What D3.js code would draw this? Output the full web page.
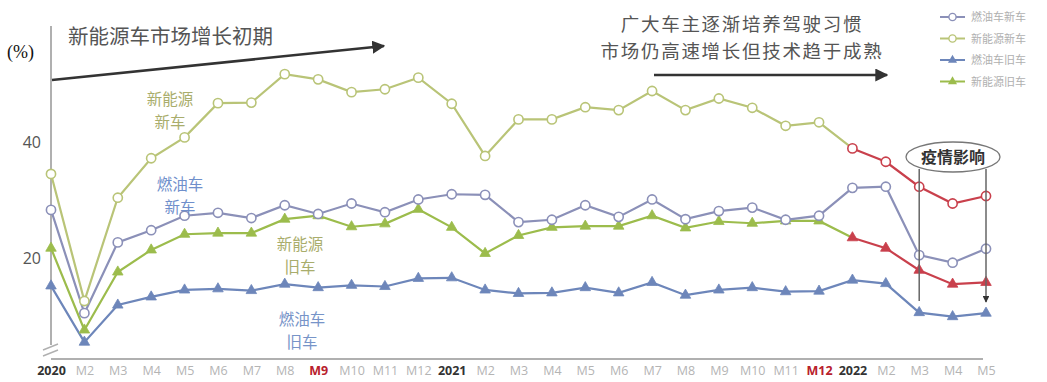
<!DOCTYPE html>
<html>
<head>
<meta charset="utf-8">
<script src="https://cdn.jsdelivr.net/npm/d3@7/dist/d3.min.js"></script>
<style>
  html, body { margin: 0; padding: 0; background: #fff; }
  svg { display: block; font-family: "Noto Sans CJK SC", "Noto Sans", sans-serif; }
</style>
</head>
<body>
<svg id="chart" width="1047" height="382"></svg>
<script>
// Monthly share (%) by vehicle type, Jan 2020 – May 2022
const months = ["2020","M2","M3","M4","M5","M6","M7","M8","M9","M10","M11","M12",
                "2021","M2","M3","M4","M5","M6","M7","M8","M9","M10","M11","M12",
                "2022","M2","M3","M4","M5"];

const nevNew = [34.5,12.6,30.4,37.2,40.8,46.7,46.8,51.7,50.8,48.6,49.1,51.1,
                46.6,37.6,43.9,43.9,46.0,45.5,48.8,45.5,47.5,45.9,42.8,43.4,
                38.9,36.6,32.3,29.4,30.7];
const iceNew = [28.3,10.5,22.7,24.8,27.3,27.8,26.9,29.1,27.6,29.4,27.9,30.1,
                31.0,30.9,26.2,26.6,29.1,27.1,30.1,26.7,28.1,28.7,26.6,27.3,
                32.1,32.3,20.5,19.2,21.6];
const nevUsed = [21.7,7.6,17.6,21.4,24.1,24.3,24.3,26.7,27.3,25.4,25.9,28.4,
                 25.3,20.8,23.9,25.3,25.5,25.5,27.3,25.2,26.3,26.0,26.4,26.4,
                 23.5,21.7,17.9,15.5,15.8];
const iceUsed = [15.2,5.5,11.9,13.3,14.5,14.7,14.4,15.5,14.9,15.3,15.1,16.5,
                 16.6,14.5,13.9,14.0,14.9,14.0,15.8,13.6,14.5,14.9,14.2,14.3,
                 16.2,15.6,10.6,9.9,10.5];

const yTicks = [20, 40];
const legendNames = ["燃油车新车", "新能源新车", "燃油车旧车", "新能源旧车"];
const yearTicks = [0, 12, 24];
const highlightTicks = [8, 23];
const highlightFrom = 24;   // from 2022 the new-energy series are drawn in red

const colors = {
  iceNew: "#8b90b8",
  nevNew: "#b9c477",
  iceUsed: "#6d86ba",
  nevUsed: "#9cbc4c",
  red: "#c9404c",
  axis: "#b0b0b0"
};

const svg = d3.select("#chart");

const x = d3.scaleLinear().domain([0, months.length - 1]).range([51, 986]);
const y = d3.scaleLinear().domain([2.6, 60]).range([359, 26]);

// ---- axes ----
const gx = svg.append("g").attr("transform", `translate(0,${y(2.6)})`)
  .call(d3.axisBottom(x).tickValues(d3.range(months.length)).tickSize(0).tickPadding(7)
    .tickFormat(i => months[i]));
gx.select(".domain").attr("stroke", colors.axis).attr("stroke-width", 2)
  .attr("d", `M${x(0)},0H${x(months.length - 1) - 3}`);
gx.selectAll("text")
  .attr("font-size", 12.5)
  .attr("font-family", "'Open Sans', 'Noto Sans', sans-serif")
  .attr("fill", i => yearTicks.includes(i) ? "#333" : highlightTicks.includes(i) ? "#b8202c" : "#b4b4b4")
  .attr("font-weight", i => (yearTicks.includes(i) || highlightTicks.includes(i)) ? "bold" : "normal");

const gy = svg.append("g").attr("transform", `translate(${x(0)},0)`)
  .call(d3.axisLeft(y).tickValues(yTicks).tickSize(0).tickPadding(10).tickFormat(d3.format("d")));
gy.select(".domain").attr("stroke", colors.axis).attr("stroke-width", 2)
  .attr("d", `M0,${y(60)}V345`);
gy.selectAll("text").attr("font-size", 16).attr("fill", "#555")
  .attr("font-family", "'Open Sans', 'Noto Sans', sans-serif");

// axis break marks
[347, 353].forEach(yy => {
  svg.append("line").attr("x1", x(0) - 8).attr("y1", yy + 3).attr("x2", x(0) + 7).attr("y2", yy - 3)
    .attr("stroke", colors.axis).attr("stroke-width", 1.5);
});

svg.append("text").attr("x", 7).attr("y", 58).attr("font-size", 18)
  .attr("font-family", "'Liberation Serif', serif").attr("fill", "#111").text("(%)");

// ---- series ----
const line = d3.line().x(d => x(d.i)).y(d => y(d.v));
const pts = arr => arr.map((v, i) => ({ i, v }));
const tri = d3.symbol().type(d3.symbolTriangle).size(48);

function drawSeries(arr, color, marker, redTail) {
  const p = pts(arr);
  const main = redTail ? p.slice(0, highlightFrom + 1) : p;
  svg.append("path").datum(main).attr("d", line).attr("fill", "none")
    .attr("stroke", color).attr("stroke-width", 2.2);
  if (redTail) {
    svg.append("path").datum(p.slice(highlightFrom)).attr("d", line).attr("fill", "none")
      .attr("stroke", colors.red).attr("stroke-width", 2.2);
  }
  const c = d => (redTail && d.i >= highlightFrom) ? colors.red : color;
  if (marker === "circle") {
    svg.append("g").selectAll("circle").data(p).join("circle")
      .attr("cx", d => x(d.i)).attr("cy", d => y(d.v)).attr("r", 4.6)
      .attr("fill", "#fff").attr("stroke", c).attr("stroke-width", 1.6);
  } else {
    svg.append("g").selectAll("path").data(p).join("path")
      .attr("d", tri).attr("transform", d => `translate(${x(d.i)},${y(d.v)})`)
      .attr("fill", c).attr("stroke", c).attr("stroke-width", 0.8);
  }
}

drawSeries(iceUsed, colors.iceUsed, "triangle", false);
drawSeries(nevUsed, colors.nevUsed, "triangle", true);
drawSeries(iceNew, colors.iceNew, "circle", false);
drawSeries(nevNew, colors.nevNew, "circle", true);

// ---- in-chart series labels ----
function label(lines, cx, cy, color) {
  const t = svg.append("text").attr("text-anchor", "middle").attr("font-size", 15.5).attr("fill", color);
  lines.forEach((s, k) => t.append("tspan").attr("x", cx).attr("y", cy + k * 23).text(s));
}
label(["新能源", "新车"], 170, 105, "#a9ad6c");
label(["燃油车", "新车"], 180, 190, "#6f8fcb");
label(["新能源", "旧车"], 300, 250, "#a9ad6c");
label(["燃油车", "旧车"], 302, 325, "#7794c8");

// ---- phase annotations ----
const defs = svg.append("defs");
defs.append("marker").attr("id", "arrow").attr("viewBox", "0 0 10 10").attr("refX", 9).attr("refY", 5)
  .attr("markerWidth", 5).attr("markerHeight", 5).attr("orient", "auto")
  .append("path").attr("d", "M0,0L10,5L0,10Z").attr("fill", "#333");
defs.append("marker").attr("id", "arrowSmall").attr("viewBox", "0 0 10 10").attr("refX", 9).attr("refY", 5)
  .attr("markerWidth", 4.5).attr("markerHeight", 4.5).attr("orient", "auto")
  .append("path").attr("d", "M0,0L10,5L0,10Z").attr("fill", "#333");

svg.append("text").attr("x", 68).attr("y", 44).attr("font-size", 20.5).attr("fill", "#555")
  .text("新能源车市场增长初期");
svg.append("line").attr("x1", 52).attr("y1", 80).attr("x2", 384).attr("y2", 46)
  .attr("stroke", "#333").attr("stroke-width", 2.6).attr("marker-end", "url(#arrow)");

// two separate lines, tracked out slightly so the tight line pitch keeps the width
[["广大车主逐渐培养驾驶习惯", 31], ["市场仍高速增长但技术趋于成熟", 58]].forEach(([s, yy]) => {
  svg.append("text").attr("x", 742).attr("y", yy).attr("text-anchor", "middle")
    .attr("font-size", 18.5).attr("letter-spacing", 1.7).attr("fill", "#555").text(s);
});
svg.append("line").attr("x1", 654).attr("y1", 75).attr("x2", 887).attr("y2", 75)
  .attr("stroke", "#333").attr("stroke-width", 2.6).attr("marker-end", "url(#arrow)");

// ---- pandemic impact callout ----
svg.append("line").attr("x1", x(26)).attr("y1", 169).attr("x2", x(26)).attr("y2", 301)
  .attr("stroke", "#666").attr("stroke-width", 1.5);
svg.append("line").attr("x1", x(28)).attr("y1", 169).attr("x2", x(28)).attr("y2", 302)
  .attr("stroke", "#666").attr("stroke-width", 1.5).attr("marker-end", "url(#arrowSmall)");
svg.append("ellipse").attr("cx", 953).attr("cy", 157).attr("rx", 47).attr("ry", 15)
  .attr("fill", "#fff").attr("stroke", "#777").attr("stroke-width", 1.3);
svg.append("text").attr("x", 953).attr("y", 163).attr("text-anchor", "middle")
  .attr("font-size", 16).attr("font-weight", "bold").attr("fill", "#333").text("疫情影响");

// ---- legend ----
const legendItems = [
  { name: legendNames[0], color: colors.iceNew, marker: "circle" },
  { name: legendNames[1], color: colors.nevNew, marker: "circle" },
  { name: legendNames[2], color: colors.iceUsed, marker: "triangle" },
  { name: legendNames[3], color: colors.nevUsed, marker: "triangle" }
];
const lg = svg.append("g").selectAll("g").data(legendItems).join("g")
  .attr("transform", (d, k) => `translate(940,${17 + k * 21.5})`);
lg.append("line").attr("x1", 0).attr("x2", 25).attr("stroke", d => d.color).attr("stroke-width", 2);
lg.filter(d => d.marker === "circle").append("circle").attr("cx", 12.5).attr("r", 3.6)
  .attr("fill", "#fff").attr("stroke", d => d.color).attr("stroke-width", 1.4);
lg.filter(d => d.marker === "triangle").append("path").attr("d", d3.symbol().type(d3.symbolTriangle).size(36))
  .attr("transform", "translate(12.5,0)").attr("fill", d => d.color);
lg.append("text").attr("x", 31).attr("y", 4).attr("font-size", 11).attr("fill", "#b0b0b0").text(d => d.name);
</script>
</body>
</html>
